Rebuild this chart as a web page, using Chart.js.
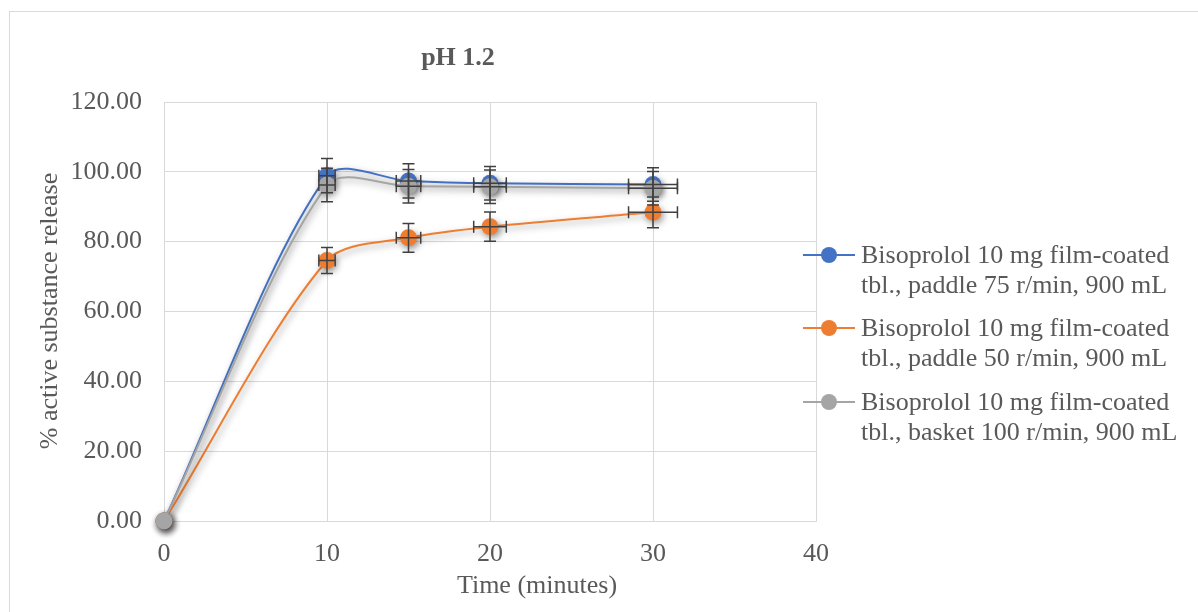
<!DOCTYPE html>
<html>
<head>
<meta charset="utf-8">
<script src="https://cdn.jsdelivr.net/npm/chart.js@4.4.1/dist/chart.umd.min.js"></script>
<style>
  html, body { margin: 0; padding: 0; background: #fff; overflow: hidden; }
  #wrap { position: relative; width: 1198px; height: 612px; }
  #frame { position: absolute; left: 9px; top: 11px; width: 1300px; height: 700px; border: 1px solid #d9d9d9; }
  canvas { position: absolute; left: 0; top: 0; }
</style>
</head>
<body>
<div id="wrap">
  <div id="frame"></div>
  <canvas id="chart" width="1198" height="612"></canvas>
</div>
<script>
// sampling times (minutes)
const times = [0, 10, 15, 20, 30]
// % released
const paddle75 = [0, 98.9, 97.4, 96.7, 96.4]
const paddle50 = [0, 74.6, 81.1, 84.3, 88.4]
const basket100 = [0, 96.2, 95.9, 95.7, 95.3]
// error bars
const paddle75Err = [0, 4.9, 4.9, 4.8, 4.8]
const paddle50Err = [0, 3.7, 4.1, 4.2, 4.4]
const basket100Err = [0, 4.8, 4.8, 4.8, 4.8]
const timeErr = [0, 0.5, 0.75, 1, 1.5]

const yTicks = [0, 20, 40, 60, 80, 100, 120]
const xTicks = [0, 10, 20, 30, 40]

const labels = [
    ['Bisoprolol 10 mg film-coated', 'tbl., paddle 75 r/min, 900 mL'],
    ['Bisoprolol 10 mg film-coated', 'tbl., paddle 50 r/min, 900 mL'],
    ['Bisoprolol 10 mg film-coated', 'tbl., basket 100 r/min, 900 mL']
]
const colors = ['#4472C4', '#ED7D31', '#A5A5A5']

const textColor = '#595959'
const serif = "'Liberation Serif', 'Times New Roman', serif"

function points(values){
    return times.map((t, i) => ({x: t, y: values[i]}))
}

function makeSet(i, values, err){
    return {
        label: labels[i].join(' '),
        data: points(values),
        yErr: err,
        order: 2 - i,
        clip: false,
        borderColor: colors[i],
        backgroundColor: colors[i],
        borderWidth: 2,
        pointRadius: 8.5,
        pointHoverRadius: 8.5,
        pointBorderWidth: 0,
        tension: 0.3
    }
}

// drop shadow like the office chart
const shadowPlugin = {
    id: 'shadow',
    beforeDatasetDraw(chart) {
        const ctx = chart.ctx
        ctx.save()
        ctx.shadowColor = 'rgba(0,0,0,0.4)'
        ctx.shadowBlur = 7
        ctx.shadowOffsetX = 2
        ctx.shadowOffsetY = 3
    },
    afterDatasetDraw(chart) {
        chart.ctx.restore()
    }
}

const errorBars = {
    id: 'errorBars',
    afterDatasetsDraw(chart) {
        const ctx = chart.ctx
        const xs = chart.scales.x, ys = chart.scales.y
        const cap = 6
        ctx.save()
        ctx.strokeStyle = '#404040'
        ctx.lineWidth = 1.5
        chart.data.datasets.forEach(ds => {
            ds.data.forEach((p, i) => {
                const e = ds.yErr[i], xe = timeErr[i]
                const px = xs.getPixelForValue(p.x), py = ys.getPixelForValue(p.y)
                ctx.beginPath()
                if (e > 0) {
                    const top = ys.getPixelForValue(p.y + e), bot = ys.getPixelForValue(p.y - e)
                    ctx.moveTo(px, top); ctx.lineTo(px, bot)
                    ctx.moveTo(px - cap, top); ctx.lineTo(px + cap, top)
                    ctx.moveTo(px - cap, bot); ctx.lineTo(px + cap, bot)
                }
                if (xe > 0) {
                    const l = xs.getPixelForValue(p.x - xe), r = xs.getPixelForValue(p.x + xe)
                    ctx.moveTo(l, py); ctx.lineTo(r, py)
                    ctx.moveTo(l, py - cap); ctx.lineTo(l, py + cap)
                    ctx.moveTo(r, py - cap); ctx.lineTo(r, py + cap)
                }
                ctx.stroke()
            })
        })
        ctx.restore()
    }
}

const texts = {
    id: 'texts',
    afterDraw(chart) {
        const ctx = chart.ctx
        ctx.save()
        ctx.fillStyle = textColor
        ctx.textAlign = 'center'
        ctx.textBaseline = 'middle'
        ctx.font = 'bold 26px ' + serif
        ctx.fillText('pH 1.2', 458, 58)
        ctx.font = '26px ' + serif
        ctx.fillText('Time (minutes)', 537, 586)
        ctx.translate(50, 311)
        ctx.rotate(-Math.PI / 2)
        ctx.fillText('% active substance release', 0, 0)
        ctx.restore()

        // legend on the right
        const rows = [255, 328, 402]
        ctx.save()
        rows.forEach((y, i) => {
            ctx.strokeStyle = colors[i]
            ctx.lineWidth = 2
            ctx.beginPath()
            ctx.moveTo(803, y); ctx.lineTo(855, y)
            ctx.stroke()
            ctx.fillStyle = colors[i]
            ctx.beginPath()
            ctx.arc(829, y, 8, 0, Math.PI * 2)
            ctx.fill()
            ctx.fillStyle = textColor
            ctx.font = '26px ' + serif
            ctx.textAlign = 'left'
            ctx.textBaseline = 'middle'
            ctx.fillText(labels[i][0], 861, y + 1)
            ctx.fillText(labels[i][1], 861, y + 31)
        })
        ctx.restore()
    }
}

new Chart(document.getElementById('chart'), {
    type: 'line',
    data: {
        datasets: [
            makeSet(0, paddle75, paddle75Err),
            makeSet(1, paddle50, paddle50Err),
            makeSet(2, basket100, basket100Err)
        ]
    },
    options: {
        responsive: false,
        animation: false,
        events: [],
        layout: {padding: {left: 0, top: 102, right: 382, bottom: 0}},
        plugins: {
            legend: {display: false},
            title: {display: false},
            tooltip: {enabled: false}
        },
        scales: {
            x: {
                type: 'linear',
                min: 0,
                max: 40,
                afterBuildTicks: s => { s.ticks = xTicks.map(v => ({value: v})) },
                afterFit: s => { s.height = 91 },
                grid: {color: '#d9d9d9', drawTicks: false},
                border: {color: '#d9d9d9'},
                ticks: {color: textColor, font: {family: serif, size: 26}, padding: 18}
            },
            y: {
                min: 0,
                max: 120,
                afterBuildTicks: s => { s.ticks = yTicks.map(v => ({value: v})) },
                afterFit: s => { s.width = 164 },
                grid: {color: '#d9d9d9', drawTicks: false},
                border: {color: '#d9d9d9'},
                ticks: {
                    color: textColor,
                    font: {family: serif, size: 26},
                    padding: 22,
                    callback: v => v.toFixed(2)
                }
            }
        }
    },
    plugins: [shadowPlugin, errorBars, texts]
})
</script>
</body>
</html>
